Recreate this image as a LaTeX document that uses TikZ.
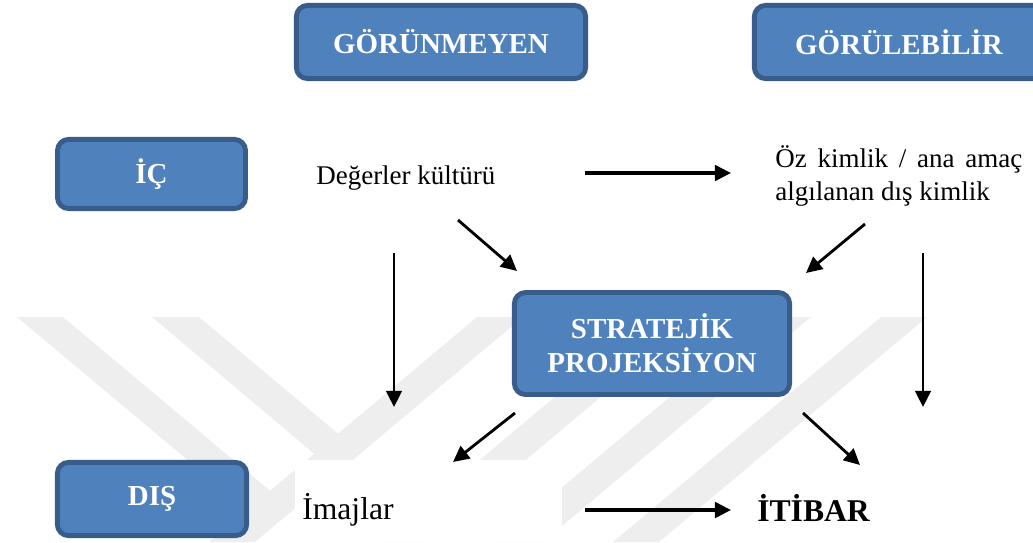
\documentclass[tikz,border=0pt]{standalone}
\usepackage{fontspec}
\setmainfont{Liberation Serif}
\usetikzlibrary{arrows.meta}
\definecolor{boxfill}{RGB}{79,129,189}
\definecolor{boxline}{RGB}{56,93,138}
\definecolor{wm}{RGB}{238,238,238}
\tikzset{
  box/.style={draw=boxline, fill=boxfill, line width=3.5pt, rounded corners=8pt,
    inner sep=0pt, text=white, align=center,
    font=\fontsize{20.6}{24}\selectfont\bfseries},
  plain/.style={inner sep=0pt, anchor=west, font=\fontsize{19.2}{23.5}\selectfont},
  big/.style={inner sep=0pt, anchor=west, font=\fontsize{22.5}{26}\selectfont},
  arr/.style={line width=2pt, -{Triangle[length=11.4pt,width=11pt]}},
  harr/.style={arr, line width=2.4pt},
  band/.style={fill=wm, draw=none}
}
\begin{document}
\begin{tikzpicture}[x=0.025cm,y=-0.025cm]
\useasboundingbox (0,0) rectangle (1033,542);
% watermark
\fill[band] (17,317) -- (63,317) -- (293,510) -- (270,529) -- cycle;
\fill[band] (152,317) -- (199,317) -- (361,453) -- (337,473) -- cycle;
\fill[band] (477,317) -- (523,317) -- (255,542) -- (209,542) -- cycle;
\fill[band] (650,317) -- (696,317) -- (428,542) -- (382,542) -- cycle;
\fill[band] (765,317) -- (811,317) -- (543,542) -- (497,542) -- cycle;
\fill[band] (881,317) -- (927,317) -- (659,542) -- (613,542) -- cycle;
\fill[white] (295,460) rectangle (562,542);
\fill[white] (755,460) rectangle (1033,542);
% boxes
\node[box, minimum width=7.23cm, minimum height=1.83cm] (gor) at (441,42) {GÖRÜNMEYEN};
\node[box, minimum width=7.23cm, minimum height=1.83cm] (gle) at (899,42) {GÖRÜLEBİLİR};
\node[box, minimum width=4.70cm, minimum height=1.73cm] (ic) at (151.5,174) {İÇ};
\node[box, minimum width=4.73cm, minimum height=1.83cm] (dis) at (152,499) {DIŞ};
\node[box, minimum width=6.88cm, minimum height=2.55cm] (strat) at (652,343.5) {STRATEJİK\\PROJEKSİYON};
% texts
\node[plain] (deg) at (316,178) {Değerler kültürü};
\node[plain, text width=6.175cm, align=justify] (oz) at (775,176) {Öz kimlik / ana amaç algılanan dış kimlik};
\node[big] (img) at (302,510) {İmajlar};
\node[big, font=\fontsize{22.5}{26}\selectfont\bfseries] (itb) at (757,508) {İTİBAR};
% arrows
\draw[harr] ([shift={(269,-5)}]deg.west) -- ([shift={(-44,-3)}]oz.west);
\draw[arr] ([shift={(142,42)}]deg.west) -- ([shift={(-135,-72.5)}]strat.center);
\draw[arr] ([shift={(78,75)}]deg.west) -- ([shift={(92,-103)}]img.west);
\draw[arr] ([shift={(90,48)}]oz.west) -- ([shift={(154,-70.5)}]strat.center);
\draw[arr] ([shift={(148,77)}]oz.west) -- ([shift={(166,-101)}]itb.west);
\draw[arr] ([shift={(-137,69.5)}]strat.center) -- ([shift={(151,-48)}]img.west);
\draw[arr] ([shift={(151,69.5)}]strat.center) -- ([shift={(103,-43)}]itb.west);
\draw[harr] ([shift={(283,0)}]img.west) -- ([shift={(-26,2)}]itb.west);
\end{tikzpicture}
\end{document}
